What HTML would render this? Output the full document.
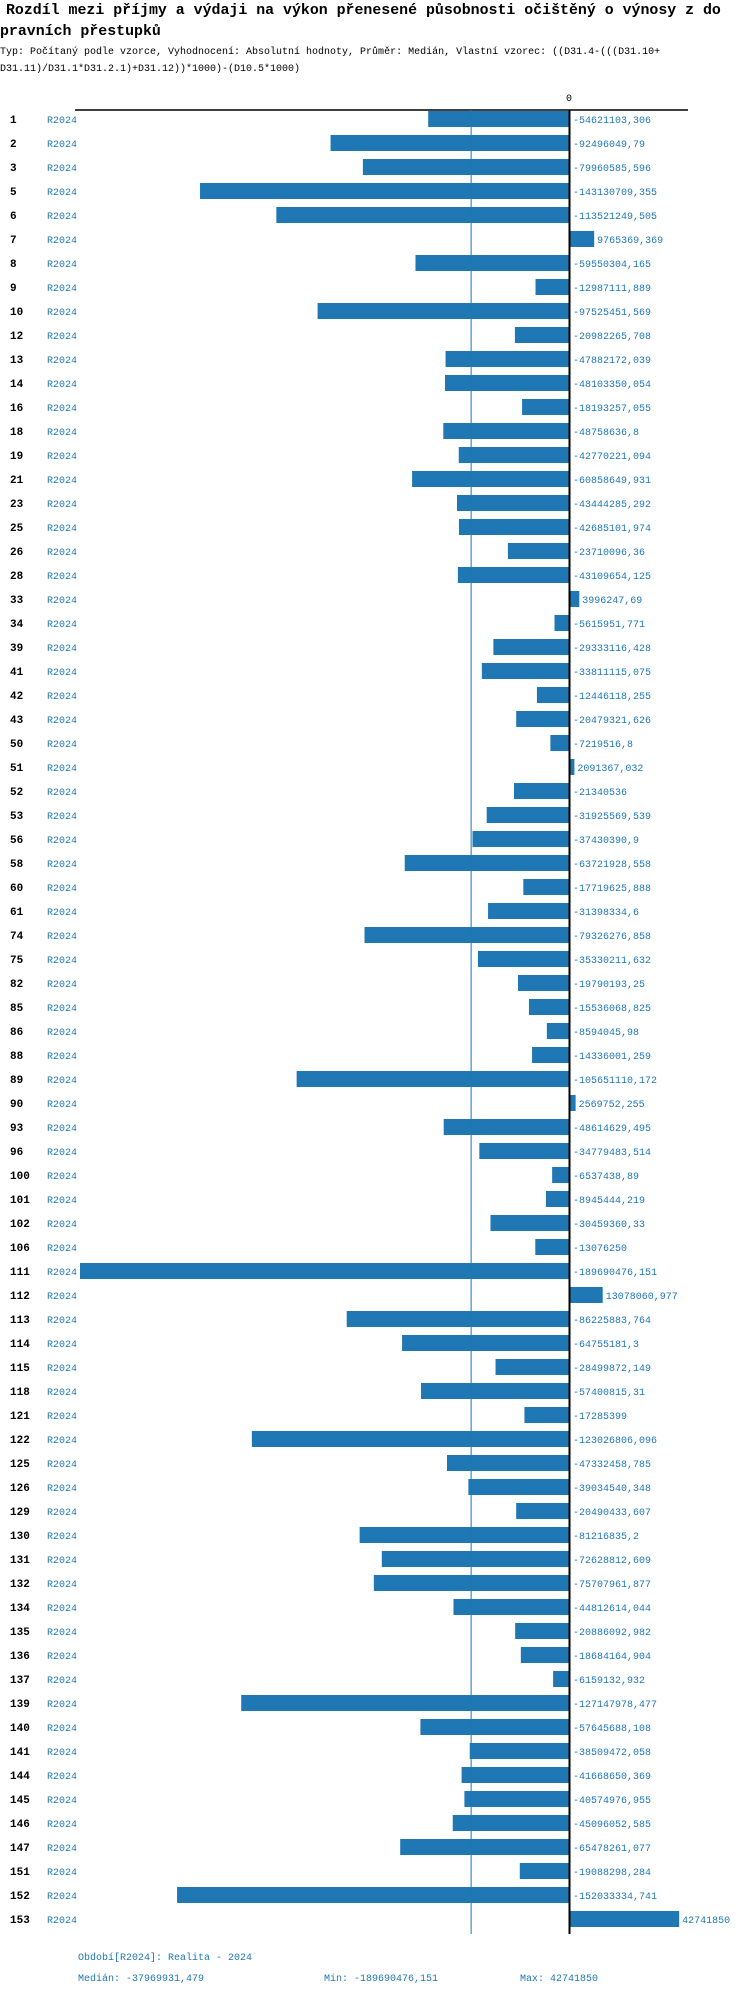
<!DOCTYPE html>
<html><head><meta charset="utf-8">
<style>
body{margin:0;background:#fff;width:750px;height:1994px;overflow:hidden;font-family:"Liberation Mono",monospace;}
svg text{font-family:"Liberation Mono",monospace;}
</style></head>
<body>
<svg id="chart" width="750" height="1994" xmlns="http://www.w3.org/2000/svg">
<text x="6" y="14" font-size="14.9" font-weight="bold" fill="#000">Rozdíl mezi příjmy a výdaji na výkon přenesené působnosti očištěný o výnosy z do</text>
<text x="0" y="35" font-size="14.9" font-weight="bold" fill="#000">pravních přestupků</text>
<text x="0" y="54" font-size="10" fill="#000">Typ: Počítaný podle vzorce, Vyhodnocení: Absolutní hodnoty, Průměr: Medián, Vlastní vzorec: ((D31.4-(((D31.10+</text>
<text x="0" y="71" font-size="10" fill="#000">D31.11)/D31.1*D31.2.1)+D31.12))*1000)-(D10.5*1000)</text>
<g id="plot"></g>
<text x="78" y="1960" font-size="10" fill="#1f77b4">Období[R2024]: Realita - 2024</text>
<text x="78" y="1981" font-size="10" fill="#1f77b4">Medián: -37969931,479</text>
<text x="324" y="1981" font-size="10" fill="#1f77b4">Min: -189690476,151</text>
<text x="520" y="1981" font-size="10" fill="#1f77b4">Max: 42741850</text>
</svg>
<script>
const ids=[1,2,3,5,6,7,8,9,10,12,13,14,16,18,19,21,23,25,26,28,33,34,39,41,42,43,50,51,52,53,56,58,60,61,74,75,82,85,86,88,89,90,93,96,100,101,102,106,111,112,113,114,115,118,121,122,125,126,129,130,131,132,134,135,136,137,139,140,141,144,145,146,147,151,152,153];
const values=[-54621103.306,-92496049.79,-79960585.596,-143130709.355,-113521249.505,9765369.369,-59550304.165,-12987111.889,-97525451.569,-20982265.708,-47882172.039,-48103350.054,-18193257.055,-48758636.8,-42770221.094,-60858649.931,-43444285.292,-42685101.974,-23710096.36,-43109654.125,3996247.69,-5615951.771,-29333116.428,-33811115.075,-12446118.255,-20479321.626,-7219516.8,2091367.032,-21340536,-31925569.539,-37430390.9,-63721928.558,-17719625.888,-31398334.6,-79326276.858,-35330211.632,-19790193.25,-15536068.825,-8594045.98,-14336001.259,-105651110.172,2569752.255,-48614629.495,-34779483.514,-6537438.89,-8945444.219,-30459360.33,-13076250,-189690476.151,13078060.977,-86225883.764,-64755181.3,-28499872.149,-57400815.31,-17285399,-123026806.096,-47332458.785,-39034540.348,-20490433.607,-81216835.2,-72628812.609,-75707961.877,-44812614.044,-20886092.982,-18684164.904,-6159132.932,-127147978.477,-57645688.108,-38509472.058,-41668650.369,-40574976.955,-45096052.585,-65478261.077,-19088298.284,-152033334.741,42741850];
const labels=["-54621103,306","-92496049,79","-79960585,596","-143130709,355","-113521249,505","9765369,369","-59550304,165","-12987111,889","-97525451,569","-20982265,708","-47882172,039","-48103350,054","-18193257,055","-48758636,8","-42770221,094","-60858649,931","-43444285,292","-42685101,974","-23710096,36","-43109654,125","3996247,69","-5615951,771","-29333116,428","-33811115,075","-12446118,255","-20479321,626","-7219516,8","2091367,032","-21340536","-31925569,539","-37430390,9","-63721928,558","-17719625,888","-31398334,6","-79326276,858","-35330211,632","-19790193,25","-15536068,825","-8594045,98","-14336001,259","-105651110,172","2569752,255","-48614629,495","-34779483,514","-6537438,89","-8945444,219","-30459360,33","-13076250","-189690476,151","13078060,977","-86225883,764","-64755181,3","-28499872,149","-57400815,31","-17285399","-123026806,096","-47332458,785","-39034540,348","-20490433,607","-81216835,2","-72628812,609","-75707961,877","-44812614,044","-20886092,982","-18684164,904","-6159132,932","-127147978,477","-57645688,108","-38509472,058","-41668650,369","-40574976,955","-45096052,585","-65478261,077","-19088298,284","-152033334,741","42741850"];
const medianValue=-37969931.479;
const domainMin=-189690476.151;

const NS="http://www.w3.org/2000/svg";
const g=document.getElementById('plot');
const zeroX=569, leftX=80;
function xScale(v){return zeroX+(v/(-domainMin))*(zeroX-leftX);}
function yRow(i){return 119+i*24;}
function mk(tag,attrs){const e=document.createElementNS(NS,tag);for(const k in attrs)e.setAttribute(k,attrs[k]);g.appendChild(e);return e;}
const plotTop=110,plotBottom=yRow(ids.length-1)+15;
const axis=mk('line',{x1:75,x2:688,y1:plotTop,y2:plotTop,stroke:'#000','stroke-width':1.5});


const zl=mk('text',{x:zeroX,y:101,'font-size':10,'text-anchor':'middle',fill:'#000'});zl.textContent='0';


ids.forEach((id,i)=>{
  const y=yRow(i);
  const n=mk('text',{x:10,y:y+4,'font-size':11,'font-weight':'bold',fill:'#000'});n.textContent=id;
  
  
  const p=mk('text',{x:47,y:y+4,'font-size':10,fill:'#1f77b4'});p.textContent='R2024';
  
  
  const x=xScale(values[i]);
  const b=mk('rect',{x:Math.min(x,zeroX),y:y-8,width:Math.abs(x-zeroX),height:16,fill:'#1f77b4'});
  
  
  const vx=values[i]<0?zeroX+4:x+3;
  const t=mk('text',{x:vx,y:y+4,'font-size':10,fill:'#1f77b4'});t.textContent=labels[i];
  
  
});
const mx=xScale(medianValue);
const ml=mk('line',{x1:mx,x2:mx,y1:plotTop,y2:plotBottom,stroke:'#1f77b4','stroke-width':1});


const zline=mk('line',{x1:zeroX+0.5,x2:zeroX+0.5,y1:plotTop,y2:plotBottom,stroke:'#000','stroke-width':2});


</script>
</body></html>
